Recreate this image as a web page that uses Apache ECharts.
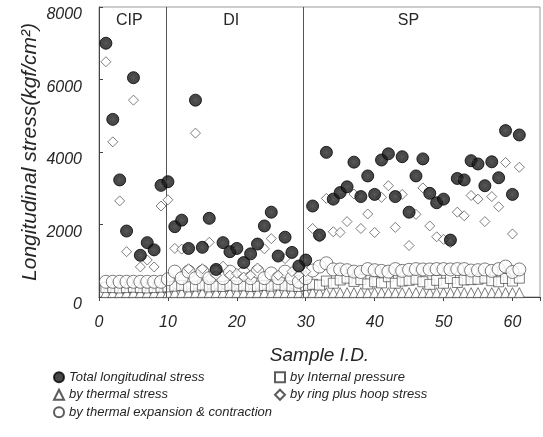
<!DOCTYPE html>
<html><head><meta charset="utf-8">
<script src="https://cdn.jsdelivr.net/npm/echarts@6/dist/echarts.min.js"></script>
<style>html,body{margin:0;padding:0;background:#fff}#c{width:543px;height:437px}</style>
</head><body><div id="c"></div>
<script>
// Sample I.D. 1..61
const sampleIds = Array.from({length: 61}, (_, i) => i + 1);
const totalStress = [7000,4900,3230,1820,6050,1150,1500,1300,3080,3180,1940,2120,1340,5430,1370,2170,760,1500,1250,1340,950,1190,1460,1960,2340,1130,1650,1230,855,1020,2510,1710,3990,2700,2880,3040,3720,2770,3340,2830,3780,3950,2770,3870,2340,3340,3810,2860,2600,2700,1570,3270,3230,3760,3670,3070,3730,3290,4590,2830,4470];
const internalPressure = [260,260,250,260,270,260,250,260,270,280,300,320,280,300,330,280,300,290,320,300,310,290,300,320,300,330,310,300,290,320,350,330,440,380,470,520,430,480,360,420,390,560,380,440,460,490,420,350,460,380,510,400,470,480,490,520,450,420,510,440,520];
const thermalStress = [120,120,120,120,120,120,120,120,120,120,120,120,120,120,120,120,120,120,120,120,120,120,120,120,120,120,120,120,120,120,120,120,120,120,120,120,120,120,120,120,120,120,120,120,120,120,120,120,120,120,120,120,120,120,120,120,120,120,120,120,120];
const ringHoop = [6490,4280,2650,1250,5430,830,1020,830,2510,2680,1340,1320,780,4520,780,1510,600,850,600,650,550,600,800,1330,1610,600,1060,700,600,700,1890,1650,2720,1800,1780,2080,2840,1890,2290,1780,2750,3070,1920,2830,1420,2280,3010,1960,1660,1590,1500,2340,2240,2800,2700,2080,2770,2490,3710,1740,3580];
const thermalExpansion = [420,420,420,420,420,420,420,420,420,490,700,520,700,520,700,520,700,520,700,520,650,520,700,520,650,520,700,520,420,520,730,840,930,760,760,740,700,690,770,740,720,700,770,720,750,770,760,760,770,770,760,770,770,730,740,760,720,770,840,690,760];
const regionBounds = [9.8, 29.6];
const regionNames = ['CIP', 'DI', 'SP'];
const regionLabelX = [4.4, 19.2, 44.9];
const xTicks = [0, 10, 20, 30, 40, 50, 60];
const yTicks = [0, 2000, 4000, 6000, 8000];

const names = ['Total longitudinal stress','by Internal pressure','by thermal stress','by ring plus hoop stress','by thermal expansion & contraction'];
const pair = arr => arr.map((v, i) => [sampleIds[i], v]);
const ink = '#262626';
const italicFont = {fontFamily: 'Liberation Sans', fontStyle: 'italic', color: ink};
const texturePath = 'path://M0,5L10,5M5,0L5,10M1.6,1.6L8.4,8.4M8.4,1.6L1.6,8.4';

const chart = echarts.init(document.getElementById('c'), null, {renderer: 'canvas'});
chart.setOption({
  animation: false,
  backgroundColor: '#fff',
  grid: {left: 99, right: 1, top: 7, bottom: 140, show: true, borderColor: '#9a9a9a', borderWidth: 1},
  legend: [
    {left: 53, top: 369, padding: 0, orient: 'vertical', itemWidth: 10, itemHeight: 10, itemGap: 1, selectedMode: false,
     data: [names[0], names[2], names[4]], textStyle: Object.assign({fontSize: 13, lineHeight: 16.5}, italicFont)},
    {left: 274, top: 369, padding: 0, orient: 'vertical', itemWidth: 10, itemHeight: 10, itemGap: 1, selectedMode: false,
     data: [names[1], names[3]], textStyle: Object.assign({fontSize: 13, lineHeight: 16.5}, italicFont)}
  ],
  xAxis: {
    type: 'value', min: 0, max: 64, interval: 10,
    name: 'Sample I.D.', nameLocation: 'middle', nameGap: 49, nameMoveOverlap: false,
    nameTextStyle: Object.assign({fontSize: 19}, italicFont),
    axisLine: {show: true, lineStyle: {color: '#444', width: 1}},
    axisTick: {show: true, inside: false, length: 4, lineStyle: {color: '#444'}},
    axisLabel: Object.assign({fontSize: 16, margin: 18, formatter: v => xTicks.includes(v) ? String(v) : ''}, italicFont),
    splitLine: {show: false}
  },
  yAxis: {
    type: 'value', min: 0, max: 8000, interval: 2000,
    name: 'Longitudinal stress(kgf/cm²)', nameLocation: 'middle', nameGap: 58, nameRotate: 90, nameMoveOverlap: false,
    nameTextStyle: Object.assign({fontSize: 21}, italicFont),
    axisLine: {show: true, lineStyle: {color: '#444', width: 1}},
    axisTick: {show: true, inside: true, length: 4, lineStyle: {color: '#444'}},
    axisLabel: Object.assign({fontSize: 16, margin: 17, verticalAlign: 'top', formatter: v => yTicks.includes(v) ? String(v) : ''}, italicFont),
    splitLine: {show: false}
  },
  series: [
    {name: names[2], type: 'scatter', data: pair(thermalStress), symbol: 'triangle', symbolSize: 10, z: 2,
     itemStyle: {color: '#fff', borderColor: '#333', borderWidth: 0.8}},
    {name: names[1], type: 'scatter', data: pair(internalPressure), symbol: 'rect', symbolSize: 10, z: 3,
     itemStyle: {color: '#fff', borderColor: '#333', borderWidth: 0.8}},
    {name: names[4], type: 'scatter', data: pair(thermalExpansion), symbol: 'circle', symbolSize: 13, z: 4,
     itemStyle: {color: '#fff', borderColor: '#333', borderWidth: 0.8}},
    {name: names[3], type: 'scatter', data: pair(ringHoop), symbol: 'diamond', symbolSize: 10, z: 5,
     itemStyle: {color: '#fff', borderColor: '#333', borderWidth: 0.8},
     markLine: {silent: true, symbol: 'none', label: {show: false},
       lineStyle: {color: '#555', width: 1, type: 'solid'},
       data: regionBounds.map(x => ({xAxis: x}))},
     markPoint: {silent: true, symbol: 'circle', symbolSize: 0,
       label: {show: true, position: 'inside', fontFamily: 'Liberation Sans', fontSize: 16, color: ink, formatter: p => p.name},
       data: regionNames.map((n, i) => ({name: n, coord: [regionLabelX[i], 7620]}))}},
    {name: names[0], type: 'scatter', data: pair(totalStress), symbol: 'circle', symbolSize: 12, z: 6,
     itemStyle: {color: '#1a1a1a', borderColor: '#000', borderWidth: 1}},
    {name: 'texture', type: 'scatter', data: pair(totalStress), symbol: texturePath, symbolSize: 6, z: 7, silent: true,
     itemStyle: {color: 'none', borderColor: '#5e5e5e', borderWidth: 0.7}}
  ]
});
</script></body></html>
